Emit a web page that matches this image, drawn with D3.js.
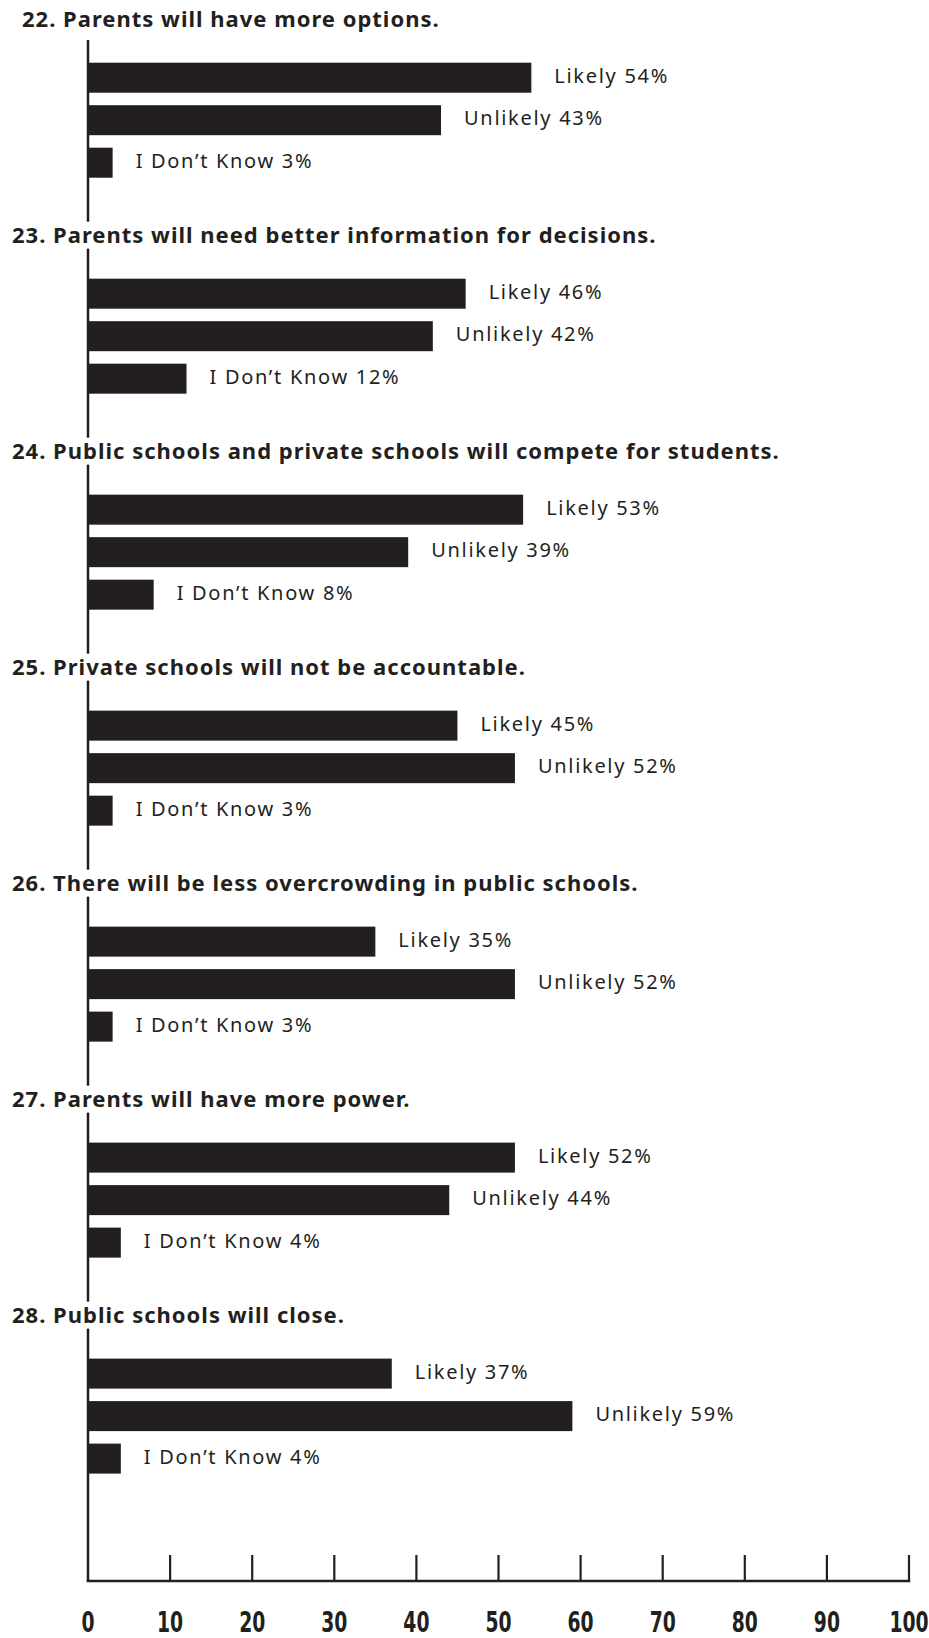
<!DOCTYPE html>
<html><head><meta charset="utf-8">
<script src="https://cdn.jsdelivr.net/npm/d3@7"></script>
<style>body{margin:0;background:#fff}svg{display:block}</style>
</head><body><svg id="c" width="929" height="1638"></svg>
<script>
// ---- data ----
const questions = ["22", "23", "24", "25", "26", "27", "28"];
const questionTitles = [
  "Parents will have more options.",
  "Parents will need better information for decisions.",
  "Public schools and private schools will compete for students.",
  "Private schools will not be accountable.",
  "There will be less overcrowding in public schools.",
  "Parents will have more power.",
  "Public schools will close."
];
const responses = ["Likely", "Unlikely", "I Don\u2019t Know"];
const likely   = [54, 46, 53, 45, 35, 52, 37];
const unlikely = [43, 42, 39, 52, 52, 44, 59];
const dontKnow = [3, 12, 8, 3, 3, 4, 4];
const xTicks = [0, 10, 20, 30, 40, 50, 60, 70, 80, 90, 100];

// ---- build rows ----
const rows = questions.map((q, i) => ({
  q, title: questionTitles[i],
  values: [likely[i], unlikely[i], dontKnow[i]]
}));

const ink = "#231f20";
const svg = d3.select("#c");

const x = d3.scaleLinear().domain([0, 100]).range([88, 909]);
const gy = d3.scalePoint().domain(questions).range([56.45, 1352.35]); // group top
const by = d3.scaleBand().domain(responses).range([0, 127.5]).paddingInner(0.2941).paddingOuter(0.147);

// vertical axis
svg.append("line").attr("x1", x(0)).attr("x2", x(0)).attr("y1", 40).attr("y2", 1582)
  .attr("stroke", ink).attr("stroke-width", 2.5);

const groups = svg.selectAll("g.grp").data(rows).join("g").attr("class", "grp")
  .attr("transform", d => `translate(0,${gy(d.q)})`);

// titles with white knock-out behind
groups.each(function(d, i) {
  const g = d3.select(this);
  const bg = g.append("rect").attr("fill", "#fff");
  const t = g.append("text")
    .attr("x", i === 0 ? 22 : 12)
    .attr("y", by(responses[0]) + by.bandwidth() / 2 - 51)
    .attr("fill", ink)
    .style("font-family", "'Noto Sans', sans-serif")
    .style("font-weight", 700)
    .style("font-size", "22px")
    .style("letter-spacing", "1px")
    .text(`${d.q}. ${d.title}`);
  const bb = t.node().getBBox();
  bg.attr("x", bb.x).attr("y", bb.y + 3).attr("width", bb.width).attr("height", bb.height - 3);
});

// bars
groups.selectAll("rect.bar").data(d => d.values.map((v, k) => ({ r: responses[k], v })))
  .join("rect").attr("class", "bar")
  .attr("x", x(0))
  .attr("y", d => by(d.r))
  .attr("width", d => x(d.v) - x(0))
  .attr("height", by.bandwidth())
  .attr("fill", ink);

// value labels
groups.selectAll("text.lbl").data(d => d.values.map((v, k) => ({ r: responses[k], v })))
  .join("text").attr("class", "lbl")
  .attr("x", d => x(d.v) + 23)
  .attr("y", d => by(d.r) + by.bandwidth() / 2 + 5)
  .attr("fill", ink)
  .style("font-family", "'Noto Sans', sans-serif")
  .style("font-size", "20px")
  .style("letter-spacing", "1.7px")
  .text(d => `${d.r} ${d.v}%`);

// x axis
const axisG = svg.append("g").attr("transform", "translate(0,1581)");
axisG.append("line").attr("x1", x(0) - 1.25).attr("x2", x(100) + 1.25).attr("y1", 0).attr("y2", 0)
  .attr("stroke", ink).attr("stroke-width", 2.5);
axisG.selectAll("line.tick").data(xTicks.filter(t => t > 0)).join("line").attr("class", "tick")
  .attr("x1", d => x(d)).attr("x2", d => x(d)).attr("y1", 0).attr("y2", -26)
  .attr("stroke", ink).attr("stroke-width", 2.2);
axisG.selectAll("text.tl").data(xTicks).join("text").attr("class", "tl")
  .attr("transform", d => `translate(${x(d)},51) scale(0.72,1)`)
  .attr("text-anchor", "middle")
  .attr("fill", ink)
  .style("font-family", "'Liberation Sans Narrow', 'DejaVu Sans Condensed', sans-serif")
  .style("font-weight", 700)
  .style("font-size", "29px")
  .text(d => d);
</script></body></html>
